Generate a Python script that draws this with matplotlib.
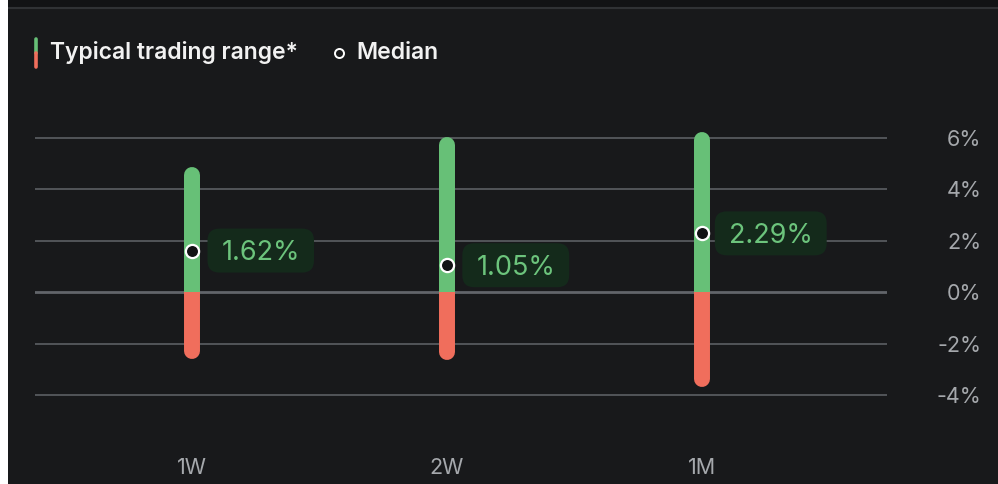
import matplotlib
matplotlib.use("Agg")
import matplotlib.pyplot as plt
import matplotlib.patches as mpatches
import matplotlib.transforms as mtransforms
from matplotlib.lines import Line2D

# typical trading range per horizon (percent)
periods = ["1W", "2W", "1M"]
range_high = [4.56, 5.72, 5.94]
range_low = [-2.29, -2.32, -3.37]
medians = [1.62, 1.05, 2.29]
yticks = [-4, -2, 0, 2, 4, 6]

BG = "#18191b"
GREEN = "#67c077"
RED = "#f06e5c"
GRID = "#62656a"
LABEL_BOX = "#142a1b"
LABEL_TXT = "#6cc47c"
TICK_TXT = "#a5a8ac"

plt.rcParams["font.family"] = ["Inter", "DejaVu Sans"]

W, H = 998, 484
fig = plt.figure(figsize=(W / 100, H / 100), dpi=100, facecolor=BG)

# frame bits: dark strip on top, thin separator line, white left margin
fig.patches.append(mpatches.Rectangle((0, 1 - 7 / H), 1, 7 / H, transform=fig.transFigure,
                                      fc="#121315", ec="none", zorder=0))
fig.lines.append(Line2D([0, 1], [1 - 8 / H, 1 - 8 / H], transform=fig.transFigure,
                        color="#303235", lw=1.5))
fig.patches.append(mpatches.Rectangle((0, 0), 8 / W, 1, transform=fig.transFigure,
                                      fc="white", ec="none", zorder=5))

ax = fig.add_axes([35 / W, 44 / H, 852 / W, 330 / H])
ax.set_facecolor(BG)
ax.set_xlim(-0.6157, 2.7255)
ax.set_ylim(-5.75, 7.09)
for s in ax.spines.values():
    s.set_visible(False)

for t in yticks:
    ax.axhline(t, color=GRID, lw=2.0 if t == 0 else 1.1, zorder=1)

x = list(range(len(periods)))
lw_bar = 11.5
for i in x:
    ax.plot([i, i], [0, range_high[i]], color=GREEN, lw=lw_bar, solid_capstyle="round", zorder=2)
    ax.plot([i, i], [range_low[i], 0], color=RED, lw=lw_bar, solid_capstyle="round", zorder=3)
    ax.plot([i, i], [0, range_high[i]], color=GREEN, lw=lw_bar, solid_capstyle="butt", zorder=4)
    ax.plot(i, medians[i], "o", ms=9.5, mfc="#111214", mec="white", mew=1.6, zorder=6)

ax.set_xticks(x)
ax.set_xticklabels(periods)
ax.set_yticks(yticks)
ax.set_yticklabels([f"{t}%" for t in yticks])
ax.yaxis.tick_right()
ax.tick_params(axis="y", length=0, pad=68, labelsize=15.5, labelcolor=TICK_TXT)
ax.tick_params(axis="x", length=0, pad=13, labelsize=15.5, labelcolor=TICK_TXT)
for lab in ax.get_yticklabels():
    lab.set_horizontalalignment("right")

# median value labels with rounded dark-green boxes
labels = []
for i in x:
    t = ax.annotate(f"{medians[i]:.2f}%", xy=(i, medians[i]), xytext=(49.5, -7),
                    textcoords="offset points", ha="center", va="baseline",
                    fontsize=19.5, color=LABEL_TXT, zorder=8)
    labels.append(t)

fig.canvas.draw()
r = fig.canvas.get_renderer()
for i, t in enumerate(labels):
    bb = t.get_window_extent(r)
    px, py = ax.transData.transform((i, medians[i]))
    w = bb.width + 28
    cx = (bb.x0 + bb.x1) / 2
    box = mpatches.FancyBboxPatch((cx - w / 2, py - 22), w, 44,
                                  boxstyle="round,pad=0,rounding_size=12",
                                  fc=LABEL_BOX, ec="none",
                                  transform=mtransforms.IdentityTransform(), zorder=7)
    ax.add_patch(box)

# legend drawn by hand at the top left
ly = 1 - 53 / H
fig.lines.append(Line2D([35.5 / W, 35.5 / W], [1 - 39 / H, ly], transform=fig.transFigure,
                        color=GREEN, lw=2.6, solid_capstyle="round"))
fig.lines.append(Line2D([35.5 / W, 35.5 / W], [ly, 1 - 67 / H], transform=fig.transFigure,
                        color=RED, lw=2.6, solid_capstyle="round"))
fig.text(50 / W, ly, "Typical trading range*", color="#f2f2f2", fontsize=16.5,
         fontweight=600, va="center", ha="left")
fig.lines.append(Line2D([339 / W], [ly], transform=fig.transFigure, marker="o", ms=6.5,
                        mfc=BG, mec="white", mew=1.4))
fig.text(356 / W, ly, "Median", color="#f2f2f2", fontsize=16.5,
         fontweight=600, va="center", ha="left")

fig.savefig("out.png", dpi=100, facecolor=BG)
